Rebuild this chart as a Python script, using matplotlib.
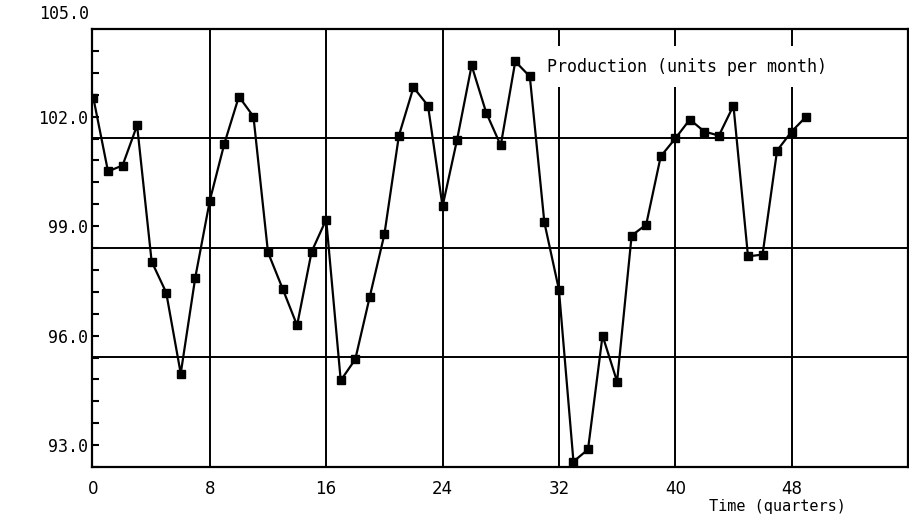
import numpy as np
from matplotlib import pyplot as plt

# quarterly production series
quarters = list(range(50))
production = [102.5, 100.5, 100.66, 101.76, 98.03, 97.18, 94.96, 97.59, 99.70, 101.26,
              102.55, 102.0, 98.28, 97.29, 96.28, 98.30, 99.18, 94.77, 95.35, 97.07,
              98.77, 101.48, 102.80, 102.3, 99.54, 101.37, 103.4, 102.11, 101.21, 103.51,
              103.1, 99.10, 97.26, 92.55, 92.88, 96.0, 94.74, 98.74, 99.04, 100.91,
              101.40, 101.92, 101.59, 101.48, 102.3, 98.17, 98.22, 101.07, 101.59, 102.0]

x_ticks = [0, 8, 16, 24, 32, 40, 48]
y_ticks = [93, 96, 99, 102]
y_ticklabels = ['93.0', '96.0', '99.0', '102.0']
h_grid = [95.4, 98.4, 101.4]

fig = plt.figure(figsize=(9.09, 5.15), dpi=100)
ax = fig.add_axes([92 / 909, 48 / 515, 816 / 909, 438 / 515])

# heavy plotter-style grid
for g in h_grid:
    ax.axhline(g, color='black', lw=1.4, zorder=1)
for g in x_ticks[1:]:
    ax.axvline(g, color='black', lw=1.4, zorder=1)

ax.plot(quarters, production, color='black', lw=1.6, marker='s',
        markersize=6, markerfacecolor='black', zorder=3)

ax.set_xlim(-0.1, 56)
ax.set_ylim(92.4, 104.4)

ax.set_xticks(x_ticks)
ax.set_xticklabels([str(t) for t in x_ticks], fontsize=12, family='DejaVu Sans')
ax.tick_params(axis='x', length=0, pad=9)

ax.set_yticks(y_ticks)
ax.set_yticklabels(y_ticklabels, fontsize=12, family='DejaVu Sans Mono')
ax.set_yticks(np.arange(92.4, 104.4, 0.6), minor=True)
ax.tick_params(axis='y', which='both', direction='in', length=5, width=1.5, pad=3)

# top label sits above the frame like in the original printout
ax.text(-0.004, 104.82, '105.0', transform=ax.get_yaxis_transform(),
        ha='right', va='center', fontsize=12, family='DejaVu Sans Mono', clip_on=False)

for s in ax.spines.values():
    s.set_linewidth(1.6)

ax.text(31.2, 103.37, 'Production (units per month)', fontsize=12, family='DejaVu Sans Mono',
        va='center', ha='left', zorder=4,
        bbox=dict(facecolor='white', edgecolor='none', pad=8))

fig.text(777 / 909, 1 - 507 / 515, 'Time (quarters)', fontsize=11,
         family='DejaVu Sans Mono', ha='center', va='center')

fig.savefig('out.png', dpi=100)
